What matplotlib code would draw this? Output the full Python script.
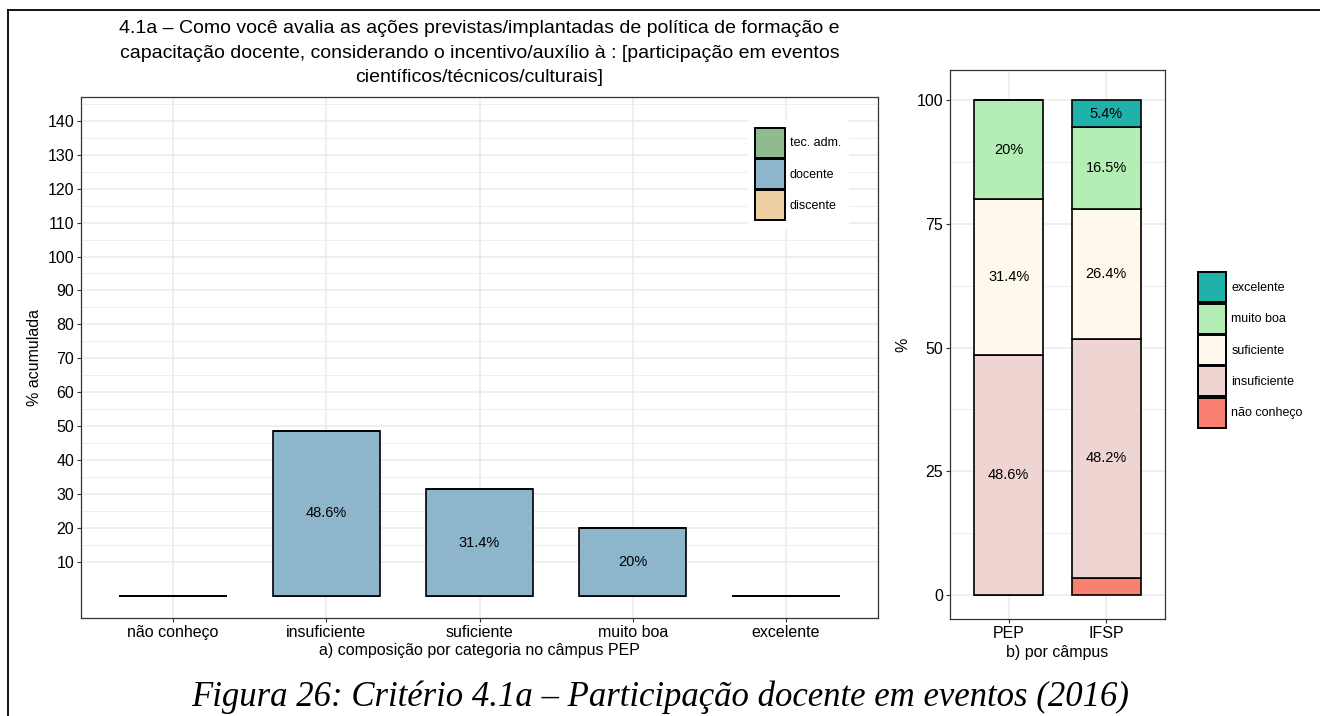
import matplotlib.pyplot as plt
from matplotlib.patches import Patch
from matplotlib.lines import Line2D

plt.rcParams['font.family'] = ['Liberation Sans', 'DejaVu Sans']

# left panel: composition per category at campus PEP
categorias = ["não conheço", "insuficiente", "suficiente", "muito boa", "excelente"]
tec_adm = [0, 0, 0, 0, 0]
docente = [0, 48.6, 31.4, 20, 0]
discente = [0, 0, 0, 0, 0]
grupos = ["tec. adm.", "docente", "discente"]
cores_grupos = ["#8FBC8F", "#8DB6CD", "#EECFA1"]

# right panel: per campus (stacked %)
campus = ["PEP", "IFSP"]
nao_conheco = [0, 3.5]
insuficiente = [48.6, 48.2]
suficiente = [31.4, 26.4]
muito_boa = [20, 16.5]
excelente = [0, 5.4]
niveis = ["não conheço", "insuficiente", "suficiente", "muito boa", "excelente"]
cores_niveis = ["#FA8072", "#EED5D2", "#FFF8EC", "#B4EEB4", "#20B2AA"]

W, H = 1320, 716
fig = plt.figure(figsize=(W / 100, H / 100), dpi=100)

def px(x0, y0, x1, y1):
    return [x0 / W, 1 - y1 / H, (x1 - x0) / W, (y1 - y0) / H]

grid_c = "#EBEBEB"
border_c = "#333333"
fs_tick = 11.5

# ---- left panel
ax = fig.add_axes(px(81, 97, 878, 618))
x = list(range(len(categorias)))
base = [0] * len(categorias)
for vals, cor in zip([discente, docente, tec_adm], [cores_grupos[2], cores_grupos[1], cores_grupos[0]]):
    ax.bar(x, vals, bottom=base, width=0.7, color=cor, edgecolor="black", linewidth=1.2, zorder=3)
    base = [b + v for b, v in zip(base, vals)]
for i, v in enumerate(docente):
    if v > 0:
        ax.text(i, v / 2, f"{v:g}%", ha="center", va="center", fontsize=10.5, zorder=4)
ax.set_xlim(-0.6, len(categorias) - 0.4)
ax.set_ylim(-6.5, 147)
ax.set_yticks(range(10, 141, 10))
ax.set_yticks(range(15, 146, 10), minor=True)
ax.set_xticks(x)
ax.set_xticklabels(categorias)
ax.grid(True, which="major", color=grid_c, linewidth=1.1, zorder=0)
ax.grid(True, which="minor", axis="y", color=grid_c, linewidth=0.6, zorder=0)
ax.tick_params(which="minor", length=0)
ax.tick_params(which="major", labelsize=fs_tick, color=border_c, length=3, width=0.8, pad=2)
for s in ax.spines.values():
    s.set_color(border_c)
    s.set_linewidth(0.9)
ax.set_ylabel("% acumulada", fontsize=fs_tick)
ax.set_xlabel("a) composição por categoria no câmpus PEP", fontsize=fs_tick, labelpad=2)
handles = [Patch(facecolor=c, edgecolor="black", linewidth=1.4) for c in cores_grupos]
leg = ax.legend(handles, grupos, loc="upper left", bbox_to_anchor=(0.8365, 0.955), fontsize=9,
                handlelength=2.35, handleheight=3.3, labelspacing=0.1, handletextpad=0.4,
                frameon=True, framealpha=1, edgecolor="white", borderpad=0.6, borderaxespad=0)
leg.set_zorder(5)

# ---- right panel
ax2 = fig.add_axes(px(950, 70, 1165, 619))
xc = [0, 1]
base = [0, 0]
for vals, cor in zip([nao_conheco, insuficiente, suficiente, muito_boa, excelente], cores_niveis):
    ax2.bar(xc, vals, bottom=base, width=0.7, color=cor, edgecolor="black", linewidth=1.2, zorder=3)
    for i, v in enumerate(vals):
        if v >= 5:
            ax2.text(xc[i], base[i] + v / 2, f"{v:g}%", ha="center", va="center", fontsize=10.5, zorder=4)
    base = [b + v for b, v in zip(base, vals)]
ax2.set_xlim(-0.6, 1.6)
ax2.set_ylim(-4.85, 106.1)
ax2.set_yticks([0, 25, 50, 75, 100])
ax2.set_yticks([12.5, 37.5, 62.5, 87.5], minor=True)
ax2.set_xticks(xc)
ax2.set_xticklabels(campus)
ax2.grid(True, which="major", color=grid_c, linewidth=1.1, zorder=0)
ax2.grid(True, which="minor", axis="y", color=grid_c, linewidth=0.6, zorder=0)
ax2.tick_params(which="minor", length=0)
ax2.tick_params(which="major", labelsize=fs_tick, color=border_c, length=3, width=0.8, pad=2)
for s in ax2.spines.values():
    s.set_color(border_c)
    s.set_linewidth(0.9)
ax2.set_ylabel("%", fontsize=fs_tick)
ax2.set_xlabel("b) por câmpus", fontsize=fs_tick, labelpad=3)
handles2 = [Patch(facecolor=c, edgecolor="black", linewidth=1.4) for c in cores_niveis[::-1]]
ax2.legend(handles2, niveis[::-1], loc="center left", bbox_to_anchor=(1.155, 0.49), fontsize=9,
           handlelength=2.25, handleheight=3.3, labelspacing=0.12, handletextpad=0.4,
           frameon=False, borderpad=0, borderaxespad=0)

# ---- title and caption
fig.text(479.5 / W, 1 - 53 / H,
         "4.1a – Como você avalia as ações previstas/implantadas de política de formação e\n"
         "capacitação docente, considerando o incentivo/auxílio à : [participação em eventos\n"
         "científicos/técnicos/culturais]",
         ha="center", va="center", fontsize=14, linespacing=1.55)
fig.text(660 / W, 1 - 697 / H, "Figura 26: Critério 4.1a – Participação docente em eventos (2016)",
         ha="center", va="center", fontsize=25, style="italic", family=["Liberation Serif", "DejaVu Serif"])

# page frame lines
fig.add_artist(Line2D([8 / W, 1], [1 - 10 / H, 1 - 10 / H], color="black", linewidth=1.3))
fig.add_artist(Line2D([8 / W, 8 / W], [0, 1 - 10 / H], color="black", linewidth=1.3))

fig.savefig("out.png", dpi=100)
